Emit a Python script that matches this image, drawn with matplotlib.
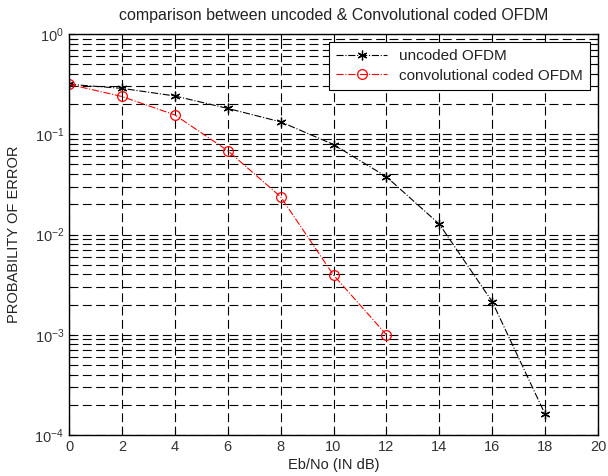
import numpy as np
import matplotlib
matplotlib.use("Agg")
import matplotlib.pyplot as plt
from matplotlib.ticker import LogLocator, NullFormatter

plt.rcParams["font.family"] = ["Liberation Sans", "DejaVu Sans"]
plt.rcParams["mathtext.fontset"] = "custom"
plt.rcParams["mathtext.rm"] = "Liberation Sans"

# data
ebno_uncoded = [0, 2, 4, 6, 8, 10, 12, 14, 16, 18]
ber_uncoded = [0.315, 0.287, 0.241, 0.181, 0.133, 0.079, 0.0377, 0.0127, 0.00214, 0.000161]

ebno_coded = [0, 2, 4, 6, 8, 10, 12]
ber_coded = [0.315, 0.238, 0.156, 0.0686, 0.0238, 0.00394, 0.001]

x_ticks = [0, 2, 4, 6, 8, 10, 12, 14, 16, 18, 20]

fig = plt.figure(figsize=(6.08, 4.76), dpi=100)
ax = fig.add_axes([69 / 608, 1 - 435 / 476, (598 - 69) / 608, (435 - 34) / 476])

ax.semilogy(
    ebno_uncoded, ber_uncoded,
    color="black", linestyle="-.", linewidth=0.8,
    marker=(6, 2, 0), markersize=7, markeredgewidth=0.9,
    label="uncoded OFDM",
)
ax.semilogy(
    ebno_coded, ber_coded,
    color="red", linestyle="-.", linewidth=0.8,
    marker="o", markersize=7, markerfacecolor="none", markeredgewidth=0.9,
    label="convolutional coded OFDM",
)

ax.set_xlim(0, 20)
ax.set_ylim(1e-4, 1e0)
ax.set_xticks(x_ticks)
ax.yaxis.set_major_locator(LogLocator(base=10, numticks=10))
ax.yaxis.set_minor_locator(LogLocator(base=10, subs=np.arange(2, 10), numticks=10))
ax.yaxis.set_minor_formatter(NullFormatter())

grid_style = dict(color="black", linestyle=(0, (8, 4)), linewidth=0.8)
ax.grid(True, which="major", axis="both", **grid_style)
ax.grid(True, which="minor", axis="y", **grid_style)

ax.tick_params(which="both", direction="in", top=True, right=True,
               labelsize=10.5, length=4, width=0.8, colors="black")
ax.tick_params(which="minor", length=2)
for lbl in ax.get_xticklabels() + ax.get_yticklabels():
    lbl.set_color("#333333")

for spine in ax.spines.values():
    spine.set_linewidth(1.0)

ax.set_title("comparison between uncoded & Convolutional coded OFDM",
             fontsize=11.5, pad=10, color="#222222")
ax.set_xlabel("Eb/No (IN dB)", fontsize=10.5, labelpad=3, color="#222222")
ax.set_ylabel("PROBABILITY OF ERROR", fontsize=10.5, labelpad=10, color="#222222")

leg = ax.legend(loc="upper right", fontsize=11, fancybox=False, framealpha=1,
                edgecolor="black", borderaxespad=0.55, handlelength=3.3,
                borderpad=0.45, labelspacing=0.35)
leg.get_frame().set_linewidth(0.8)
for t in leg.get_texts():
    t.set_color("#222222")

fig.savefig("out.png", dpi=100)
